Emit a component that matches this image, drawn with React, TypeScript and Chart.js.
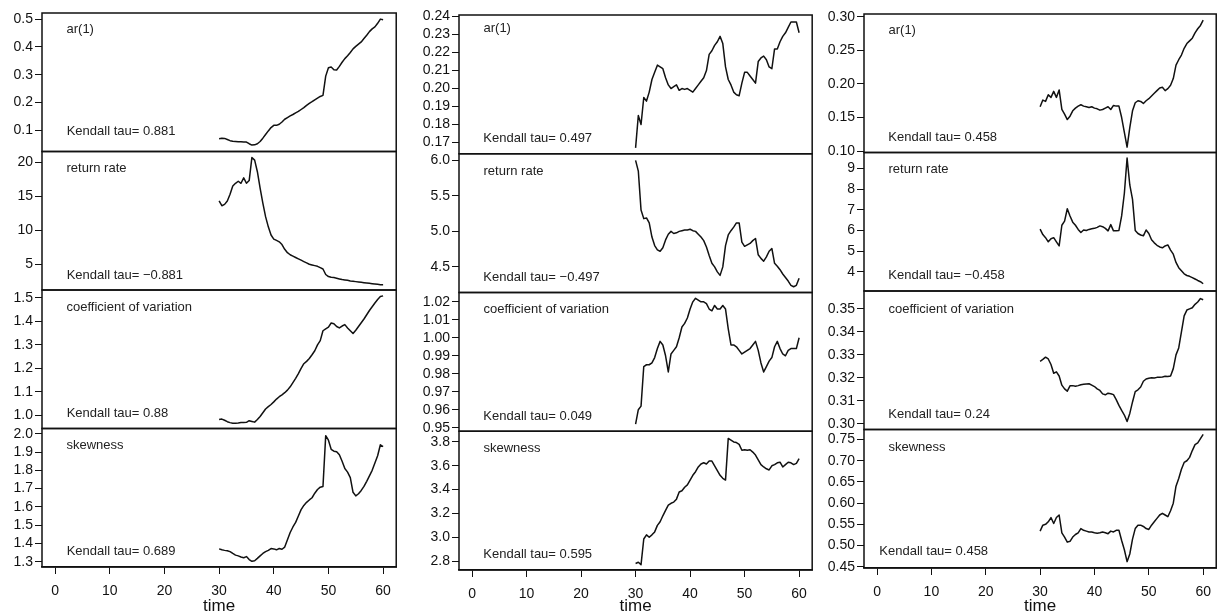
import React, { useEffect, useRef } from "react";
import { Chart, registerables } from "chart.js";

Chart.register(...registerables);

// ---------- data ----------
const TIME = [
  30, 30.5, 31, 31.5, 32, 32.5, 33, 33.5, 34, 34.5, 35, 35.5, 36, 36.5, 37, 37.5, 38, 38.5, 39, 39.5,
  40, 40.5, 41, 41.5, 42, 42.5, 43, 43.5, 44, 44.5, 45, 45.5, 46, 46.5, 47, 47.5, 48, 48.5, 49, 49.5,
  50, 50.5, 51, 51.5, 52, 52.5, 53, 53.5, 54, 54.5, 55, 55.5, 56, 56.5, 57, 57.5, 58, 58.5, 59, 59.5, 60,
];

const PANEL_NAMES = ["ar(1)", "return rate", "coefficient of variation", "skewness"];

// column 1
const C1_AR1 = [
  0.070, 0.072, 0.071, 0.067, 0.063, 0.061, 0.060, 0.059, 0.059, 0.058, 0.058, 0.052, 0.047, 0.048, 0.052, 0.060, 0.072, 0.085, 0.098, 0.110,
  0.118, 0.118, 0.122, 0.130, 0.140, 0.146, 0.152, 0.157, 0.163, 0.168, 0.175, 0.182, 0.190, 0.197, 0.203, 0.210, 0.216, 0.222, 0.226, 0.295,
  0.325, 0.328, 0.318, 0.317, 0.330, 0.345, 0.358, 0.368, 0.380, 0.393, 0.402, 0.410, 0.418, 0.430, 0.442, 0.455, 0.465, 0.472, 0.485, 0.500, 0.498,
];
const C1_RETURN = [
  14.3, 13.6, 13.8, 14.3, 15.3, 16.5, 16.9, 17.2, 16.9, 17.7, 16.9, 17.3, 20.7, 20.3, 18.6, 16.2, 14.0, 12.0, 10.5, 9.3,
  8.7, 8.5, 8.3, 7.9, 7.2, 6.7, 6.4, 6.2, 6.0, 5.8, 5.6, 5.4, 5.2, 5.0, 4.9, 4.8, 4.7, 4.5, 4.3, 3.5,
  3.2, 3.1, 3.05, 2.95, 2.85, 2.75, 2.7, 2.65, 2.55, 2.5, 2.45, 2.4, 2.35, 2.3, 2.25, 2.2, 2.15, 2.1, 2.05, 2.0, 2.0,
];
const C1_CV = [
  0.983, 0.985, 0.980, 0.974, 0.970, 0.967, 0.967, 0.968, 0.970, 0.970, 0.971, 0.978, 0.975, 0.972, 0.983, 0.996, 1.012, 1.028, 1.038, 1.047,
  1.058, 1.070, 1.080, 1.088, 1.097, 1.108, 1.122, 1.140, 1.158, 1.178, 1.200, 1.220, 1.230, 1.242, 1.258, 1.275, 1.300, 1.318, 1.360, 1.368,
  1.375, 1.393, 1.390, 1.378, 1.372, 1.380, 1.386, 1.372, 1.360, 1.348, 1.362, 1.378, 1.394, 1.410, 1.428, 1.446, 1.462, 1.478, 1.493, 1.505, 1.508,
];
const C1_SKEW = [
  1.370, 1.365, 1.362, 1.360, 1.355, 1.345, 1.336, 1.332, 1.326, 1.322, 1.328, 1.312, 1.302, 1.305, 1.318, 1.332, 1.345, 1.355, 1.362, 1.372,
  1.370, 1.365, 1.372, 1.368, 1.380, 1.420, 1.460, 1.490, 1.515, 1.550, 1.585, 1.608, 1.625, 1.638, 1.650, 1.675, 1.695, 1.708, 1.712, 1.990,
  1.965, 1.915, 1.905, 1.902, 1.885, 1.850, 1.810, 1.790, 1.760, 1.680, 1.660, 1.672, 1.690, 1.712, 1.740, 1.770, 1.800, 1.840, 1.880, 1.940, 1.930,
];
const C1_TAU = ["0.881", "\u22120.881", "0.88", "0.689"];

// column 2
const C2_AR1 = [
  0.167, 0.185, 0.180, 0.195, 0.193, 0.198, 0.205, 0.209, 0.213, 0.212, 0.211, 0.206, 0.202, 0.200, 0.201, 0.202, 0.199, 0.200, 0.1995, 0.200,
  0.199, 0.198, 0.200, 0.202, 0.204, 0.206, 0.210, 0.219, 0.221, 0.224, 0.226, 0.229, 0.225, 0.212, 0.205, 0.202, 0.198, 0.1965, 0.196, 0.203,
  0.209, 0.209, 0.207, 0.205, 0.203, 0.215, 0.217, 0.218, 0.216, 0.212, 0.211, 0.222, 0.222, 0.226, 0.229, 0.231, 0.234, 0.237, 0.237, 0.237, 0.231,
];
const C2_RETURN = [
  6.00, 5.85, 5.30, 5.18, 5.19, 5.12, 4.92, 4.80, 4.74, 4.72, 4.77, 4.88, 4.96, 5.00, 4.97, 4.98, 5.00, 5.01, 5.02, 5.02,
  5.03, 5.01, 5.00, 4.96, 4.92, 4.87, 4.78, 4.66, 4.55, 4.50, 4.43, 4.38, 4.50, 4.80, 4.95, 5.01, 5.06, 5.12, 5.12, 4.85,
  4.79, 4.81, 4.83, 4.87, 4.90, 4.67, 4.62, 4.58, 4.64, 4.72, 4.76, 4.55, 4.51, 4.46, 4.40, 4.35, 4.30, 4.24, 4.22, 4.24, 4.34,
];
const C2_CV = [
  0.952, 0.960, 0.962, 0.984, 0.985, 0.985, 0.986, 0.989, 0.994, 0.998, 0.996, 0.990, 0.981, 0.991, 0.993, 0.995, 1.000, 1.006, 1.008, 1.011,
  1.016, 1.020, 1.022, 1.021, 1.020, 1.020, 1.019, 1.016, 1.015, 1.018, 1.016, 1.016, 1.018, 1.016, 1.005, 0.996, 0.996, 0.995, 0.993, 0.991,
  0.992, 0.993, 0.994, 0.996, 0.998, 0.993, 0.986, 0.981, 0.984, 0.987, 0.989, 0.995, 0.998, 0.994, 0.991, 0.990, 0.993, 0.994, 0.994, 0.994, 1.000,
];
const C2_SKEW = [
  2.780, 2.790, 2.770, 2.985, 3.020, 3.000, 3.020, 3.045, 3.100, 3.130, 3.180, 3.225, 3.270, 3.285, 3.295, 3.320, 3.380, 3.390, 3.420, 3.440,
  3.480, 3.520, 3.550, 3.590, 3.615, 3.625, 3.615, 3.640, 3.640, 3.600, 3.560, 3.520, 3.495, 3.480, 3.830, 3.815, 3.800, 3.795, 3.780, 3.730,
  3.735, 3.730, 3.735, 3.715, 3.690, 3.650, 3.610, 3.590, 3.575, 3.565, 3.600, 3.610, 3.625, 3.630, 3.590, 3.610, 3.630, 3.625, 3.610, 3.620, 3.660,
];
const C2_TAU = ["0.497", "\u22120.497", "0.049", "0.595"];

// column 3
const C3_AR1 = [
  0.166, 0.176, 0.174, 0.184, 0.180, 0.189, 0.180, 0.191, 0.162, 0.155, 0.147, 0.152, 0.160, 0.164, 0.167, 0.169, 0.167, 0.166, 0.165, 0.166,
  0.164, 0.163, 0.161, 0.162, 0.164, 0.166, 0.162, 0.168, 0.167, 0.167, 0.150, 0.128, 0.106, 0.135, 0.160, 0.172, 0.175, 0.174, 0.171, 0.175,
  0.178, 0.182, 0.186, 0.190, 0.194, 0.195, 0.190, 0.193, 0.198, 0.208, 0.228, 0.236, 0.243, 0.253, 0.260, 0.264, 0.268, 0.276, 0.282, 0.287, 0.295,
];
const C3_RETURN = [
  6.06, 5.80, 5.65, 5.45, 5.60, 5.65, 5.45, 5.25, 6.25, 6.45, 7.05, 6.70, 6.40, 6.25, 6.05, 5.90, 6.02, 6.00, 6.05, 6.08,
  6.10, 6.15, 6.22, 6.18, 6.10, 5.98, 6.28, 5.98, 5.98, 6.00, 6.70, 7.80, 9.50, 8.20, 7.50, 6.00, 5.85, 5.78, 5.74, 6.02,
  5.85, 5.55, 5.40, 5.28, 5.20, 5.16, 5.25, 5.30, 5.05, 4.85, 4.45, 4.20, 4.05, 3.90, 3.82, 3.78, 3.72, 3.65, 3.58, 3.52, 3.42,
];
const C3_CV = [
  0.3272, 0.3280, 0.3290, 0.3282, 0.3258, 0.3220, 0.3226, 0.3208, 0.3168, 0.3152, 0.3142, 0.3165, 0.3166, 0.3163, 0.3166, 0.3170, 0.3172, 0.3173, 0.3174, 0.3168,
  0.3162, 0.3152, 0.3145, 0.3130, 0.3126, 0.3133, 0.3131, 0.3127, 0.3105, 0.3080, 0.3058, 0.3038, 0.3010, 0.3045, 0.3095, 0.3140, 0.3148, 0.3160, 0.3185, 0.3195,
  0.3198, 0.3200, 0.3199, 0.3202, 0.3203, 0.3204, 0.3207, 0.3206, 0.3208, 0.3240, 0.3300, 0.3330, 0.3400, 0.3470, 0.3495, 0.3500, 0.3505, 0.3520, 0.3530, 0.3545, 0.3540,
];
const C3_SKEW = [
  0.534, 0.548, 0.550, 0.556, 0.566, 0.552, 0.566, 0.572, 0.530, 0.520, 0.508, 0.510, 0.520, 0.526, 0.530, 0.540, 0.536, 0.534, 0.532, 0.532,
  0.530, 0.529, 0.530, 0.532, 0.530, 0.528, 0.534, 0.532, 0.536, 0.536, 0.512, 0.490, 0.462, 0.480, 0.515, 0.540, 0.548, 0.548, 0.545, 0.540,
  0.538, 0.548, 0.556, 0.564, 0.572, 0.576, 0.572, 0.568, 0.582, 0.600, 0.640, 0.658, 0.680, 0.696, 0.700, 0.708, 0.724, 0.738, 0.742, 0.752, 0.762,
];
const C3_TAU = ["0.458", "\u22120.458", "0.24", "0.458"];

// tick labels
const X_TICKS = ["0", "10", "20", "30", "40", "50", "60"];
const X_MIN = -2.4;
const X_MAX = 62.4;

const C1_TICKS = [
  ["0.1", "0.2", "0.3", "0.4", "0.5"],
  ["5", "10", "15", "20"],
  ["1.0", "1.1", "1.2", "1.3", "1.4", "1.5"],
  ["1.3", "1.4", "1.5", "1.6", "1.7", "1.8", "1.9", "2.0"],
];
const C2_TICKS = [
  ["0.17", "0.18", "0.19", "0.20", "0.21", "0.22", "0.23", "0.24"],
  ["4.5", "5.0", "5.5", "6.0"],
  ["0.95", "0.96", "0.97", "0.98", "0.99", "1.00", "1.01", "1.02"],
  ["2.8", "3.0", "3.2", "3.4", "3.6", "3.8"],
];
const C3_TICKS = [
  ["0.10", "0.15", "0.20", "0.25", "0.30"],
  ["4", "5", "6", "7", "8", "9"],
  ["0.30", "0.31", "0.32", "0.33", "0.34", "0.35"],
  ["0.45", "0.50", "0.55", "0.60", "0.65", "0.70", "0.75"],
];

// axis limits (lower, upper) per panel
const C1_YMIN = [0.024, 1.22, 0.945, 1.271];
const C1_YMAX = [0.522, 21.57, 1.533, 2.029];
const C2_YMIN = [0.1637, 4.139, 0.948, 2.725];
const C2_YMAX = [0.2409, 6.094, 1.0252, 3.89];
const C3_YMIN = [0.098, 3.07, 0.2975, 0.447];
const C3_YMAX = [0.304, 9.77, 0.3578, 0.7737];

// ---------- layout ----------
const FONT = '"Liberation Sans", Arial, Helvetica, sans-serif';
const H = 614;

const COLUMNS = [
  {
    series: [C1_AR1, C1_RETURN, C1_CV, C1_SKEW], ticks: C1_TICKS, ymin: C1_YMIN, ymax: C1_YMAX, tau: C1_TAU,
    left: 0, width: 400, top: 13, bottom: 567, axisW: 42, padRight: 3,
    nameDy: [16.5, 17.3, 17.7, 17], tauDy: [20, 14.5, 14.7, 15.3], tauDx: [24.7, 24.7, 24.7, 24.7],
  },
  {
    series: [C2_AR1, C2_RETURN, C2_CV, C2_SKEW], ticks: C2_TICKS, ymin: C2_YMIN, ymax: C2_YMAX, tau: C2_TAU,
    left: 405, width: 411, top: 15, bottom: 570, axisW: 54, padRight: 3,
    nameDy: [13.5, 17.7, 17, 17.3], tauDy: [15.7, 15.3, 14.5, 15.7], tauDx: [24.3, 24.3, 24.3, 24.3],
  },
  {
    series: [C3_AR1, C3_RETURN, C3_CV, C3_SKEW], ticks: C3_TICKS, ymin: C3_YMIN, ymax: C3_YMAX, tau: C3_TAU,
    left: 820, width: 400, top: 14, bottom: 568, axisW: 44, padRight: 1,
    nameDy: [16, 17, 18, 17.7], tauDy: [15.3, 15.3, 15, 16.3], tauDx: [24.3, 24.3, 24.3, 15.3],
  },
];

function Column({ idx }: { idx: number }) {
  const ref = useRef<HTMLCanvasElement>(null);
  const col = COLUMNS[idx];

  useEffect(() => {
    if (!ref.current) return;
    const scales: any = {
      x: {
        type: "linear",
        position: "bottom",
        min: X_MIN,
        max: X_MAX,
        afterBuildTicks: (s: any) => {
          s.ticks = X_TICKS.map((v) => ({ value: Number(v) }));
        },
        afterFit: (s: any) => {
          s.height = H - col.bottom;
        },
        ticks: {
          callback: (_v: any, i: number) => X_TICKS[i],
          font: { size: 14, family: FONT },
          color: "#111",
          padding: 9,
          maxRotation: 0,
          autoSkip: false,
        },
        grid: { drawOnChartArea: false, drawTicks: true, tickLength: 7, color: "#111", lineWidth: 1 },
        border: { display: true, color: "#111", width: 1.5 },
        title: {
          display: true,
          text: "time",
          font: { size: 17, family: FONT },
          color: "#111",
          padding: { top: 0, bottom: -3 },
        },
      },
    };
    col.series.forEach((_s, r) => {
      scales["y" + r] = {
        type: "linear",
        position: "left",
        stack: "col",
        stackWeight: 1,
        weight: 4 - r,
        min: col.ymin[r],
        max: col.ymax[r],
        afterBuildTicks: (s: any) => {
          s.ticks = col.ticks[r].map((v) => ({ value: Number(v) }));
        },
        afterFit: (s: any) => {
          s.width = col.axisW;
        },
        ticks: {
          callback: (_v: any, i: number) => col.ticks[r][i],
          autoSkip: false,
          font: { size: 14, family: FONT },
          color: "#111",
          padding: 2,
        },
        grid: { drawOnChartArea: false, drawTicks: true, tickLength: 7, color: "#111", lineWidth: 1 },
        border: { display: false },
      };
    });

    const decor = {
      id: "panelDecor" + idx,
      afterDatasetsDraw(chart: any) {
        const { ctx, chartArea } = chart;
        ctx.save();
        ctx.strokeStyle = "#111";
        ctx.lineWidth = 1.5;
        ctx.fillStyle = "#222";
        ctx.font = "13px " + FONT;
        ctx.textBaseline = "middle";
        ctx.textAlign = "left";
        col.series.forEach((_s, r) => {
          const s = chart.scales["y" + r];
          ctx.strokeRect(chartArea.left, s.top, chartArea.right - chartArea.left, s.bottom - s.top);
          ctx.fillText(PANEL_NAMES[r], chartArea.left + 24.5, s.top + col.nameDy[r]);
          ctx.fillText("Kendall tau= " + col.tau[r], chartArea.left + col.tauDx[r], s.bottom - col.tauDy[r]);
        });
        ctx.restore();
      },
    };

    const chart = new Chart(ref.current, {
      type: "line",
      data: {
        datasets: col.series.map((vals, r) => ({
          label: PANEL_NAMES[r],
          data: TIME.map((t, i) => ({ x: t, y: vals[i] })),
          yAxisID: "y" + r,
          borderColor: "#111",
          borderWidth: 1.5,
          pointRadius: 0,
          tension: 0,
          fill: false,
          borderJoinStyle: "round" as const,
        })),
      },
      options: {
        animation: false,
        responsive: false,
        devicePixelRatio: 1,
        events: [],
        layout: { padding: { left: 0, top: col.top, right: col.padRight, bottom: 0 } },
        plugins: { legend: { display: false }, tooltip: { enabled: false } },
        scales,
      },
      plugins: [decor],
    });
    return () => chart.destroy();
  }, [idx]);

  return (
    <canvas
      ref={ref}
      width={col.width}
      height={H}
      style={{ position: "absolute", left: col.left, top: 0, display: "block" }}
    />
  );
}

export default function App() {
  return (
    <div
      style={{
        position: "absolute",
        left: 0,
        top: 0,
        width: 1217,
        height: H,
        overflow: "hidden",
        background: "#fff",
      }}
    >
      <Column idx={0} />
      <Column idx={1} />
      <Column idx={2} />
    </div>
  );
}
